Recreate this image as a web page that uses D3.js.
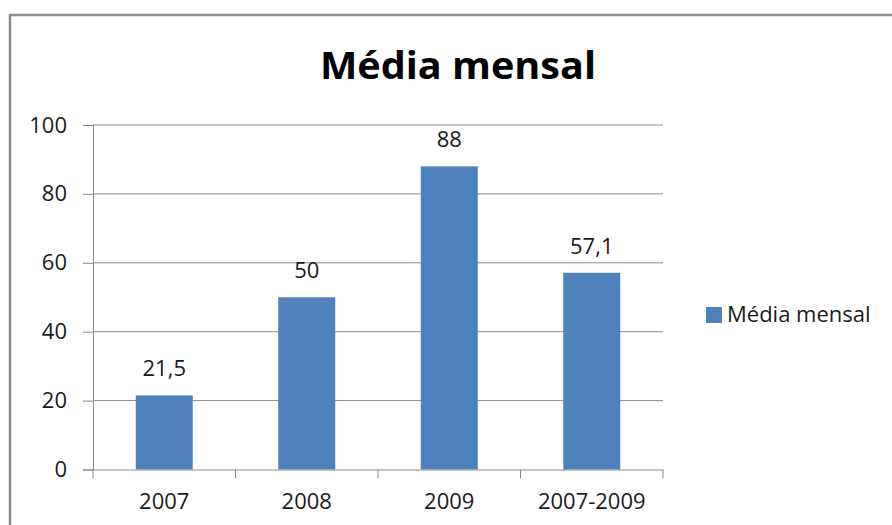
<!DOCTYPE html>
<html><head><meta charset="utf-8">
<script src="https://cdn.jsdelivr.net/npm/d3@7"></script>
<style>body{margin:0;background:#fff}svg{display:block}text{font-family:"Open Sans",sans-serif}</style>
</head><body><svg id="c" width="892" height="525"></svg>
<script>
const categories = ["2007", "2008", "2009", "2007-2009"];
const values = [21.5, 50, 88, 57.1];
const valueLabels = ["21,5", "50", "88", "57,1"];
const yTicks = [0, 20, 40, 60, 80, 100];
const seriesName = "Média mensal";
const title = "Média mensal";

const svg = d3.select("#c");
// outer border
svg.append("path").attr("d", "M10,525V15H892").attr("fill", "none").attr("stroke", "#8c8c8c").attr("stroke-width", 2.5);

const pLeft = 93, pRight = 663, pTop = 125, pBottom = 469.5;
const x = d3.scaleBand().domain(categories).range([pLeft, pRight]);
const y = d3.scaleLinear().domain([0, 100]).range([pBottom, pTop]);

// gridlines
svg.append("g").selectAll("line").data(yTicks.filter(d => d > 0)).join("line")
  .attr("x1", pLeft).attr("x2", pRight).attr("y1", d => y(d)).attr("y2", d => y(d))
  .attr("stroke", "#8a8a8a").attr("stroke-width", 1);

// y axis
const ya = svg.append("g").attr("transform", `translate(${pLeft},0)`)
  .call(d3.axisLeft(y).tickValues(yTicks).tickSize(10).tickPadding(16));
ya.select(".domain").attr("stroke", "#8a8a8a");
ya.selectAll(".tick line").attr("stroke", "#8a8a8a");
ya.selectAll("text").attr("font-size", 22).attr("fill", "#1a1a1a").attr("font-family", "Open Sans");

// bars
const bw = x.bandwidth() * 0.4;
svg.append("g").selectAll("rect").data(values).join("rect")
  .attr("x", (d, i) => x(categories[i]) + x.bandwidth() / 2 - bw / 2)
  .attr("width", bw)
  .attr("y", d => y(d)).attr("height", d => y(0) - y(d))
  .attr("fill", "#4f81bd");

// x axis
const xa = svg.append("g").attr("transform", `translate(0,${pBottom})`)
  .call(d3.axisBottom(x).tickSize(0).tickPadding(24));
xa.select(".domain").attr("stroke", "#8a8a8a");
xa.selectAll("text").attr("font-size", 22).attr("fill", "#1a1a1a").attr("font-family", "Open Sans");
// category separators
svg.append("g").selectAll("line").data(categories.map(c => x(c)).concat([pRight])).join("line")
  .attr("x1", d => d).attr("x2", d => d).attr("y1", pBottom).attr("y2", pBottom + 9)
  .attr("stroke", "#8a8a8a");

// data labels
svg.append("g").selectAll("text").data(values).join("text")
  .attr("x", (d, i) => x(categories[i]) + x.bandwidth() / 2)
  .attr("y", d => y(d) - 19)
  .attr("text-anchor", "middle").attr("font-size", 22).attr("fill", "#1a1a1a")
  .text((d, i) => valueLabels[i]);

// title
svg.append("text").attr("x", 458).attr("y", 79).attr("text-anchor", "middle")
  .attr("font-size", 38).attr("font-weight", "bold").attr("fill", "#000")
  .attr("textLength", 276).attr("lengthAdjust", "spacingAndGlyphs").text(title);

// legend
svg.append("rect").attr("x", 706).attr("y", 307).attr("width", 16).attr("height", 16).attr("fill", "#4f81bd");
svg.append("text").attr("x", 727).attr("y", 322).attr("font-size", 22).attr("fill", "#1a1a1a").text(seriesName);
</script></body></html>
